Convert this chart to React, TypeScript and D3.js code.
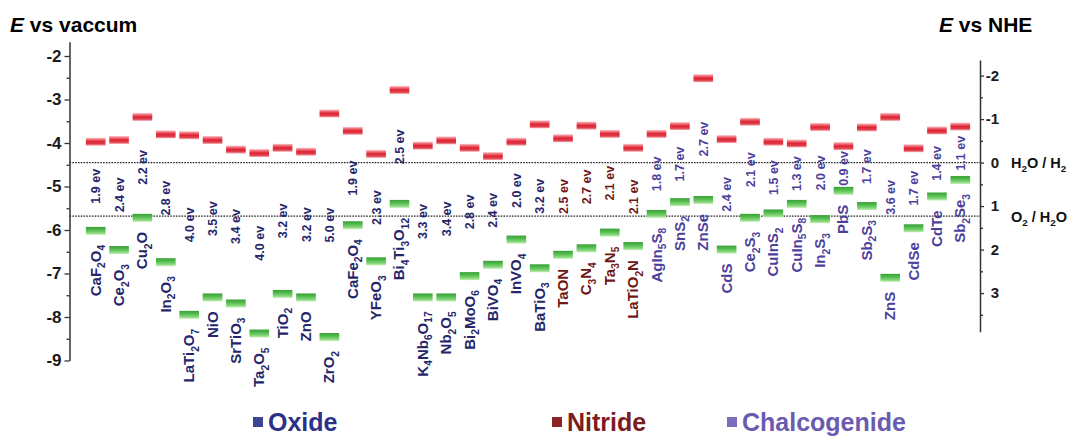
import { useEffect, useRef } from 'react';
import * as d3 from 'd3';

// materials in plotted order
const materials = [
  'CaF2O4', 'Ce2O3', 'Cu2O', 'In2O3', 'LaTi2O7', 'NiO', 'SrTiO3', 'Ta2O5', 'TiO2', 'ZnO',
  'ZrO2', 'CaFe2O4', 'YFeO3', 'Bi4Ti3O12', 'K4Nb6O17', 'Nb2O5', 'Bi2MoO6', 'BiVO4', 'InVO4', 'BaTiO3',
  'TaON', 'C3N4', 'Ta3N5', 'LaTiO2N',
  'AgIn5S8', 'SnS2', 'ZnSe', 'CdS', 'Ce2S3', 'CuInS2', 'CuIn5S8', 'In2S3', 'PbS', 'Sb2S3',
  'ZnS', 'CdSe', 'CdTe', 'Sb2Se3',
];

const kinds = [
  ...Array(20).fill('oxide'),
  ...Array(4).fill('nitride'),
  ...Array(14).fill('chalcogenide'),
];

// conduction band edge (E vs vacuum, eV)
const cbEdge = [
  -3.97, -3.93, -3.4, -3.8, -3.82, -3.93, -4.15, -4.23, -4.11, -4.2,
  -3.32, -3.72, -4.25, -2.78, -4.06, -3.94, -4.11, -4.3, -3.97, -3.57,
  -3.89, -3.6, -3.79, -4.11,
  -3.79, -3.61, -2.51, -3.91, -3.51, -3.97, -4.01, -3.63, -4.07, -3.64,
  -3.4, -4.12, -3.71, -3.62,
];

// valence band edge (E vs vacuum, eV)
const vbEdge = [
  -6.02, -6.46, -5.72, -6.74, -7.95, -7.55, -7.69, -8.38, -7.47, -7.55,
  -8.46, -5.89, -6.72, -5.4, -7.55, -7.55, -7.06, -6.8, -6.22, -6.88,
  -6.57, -6.42, -6.06, -6.37,
  -5.63, -5.36, -5.31, -6.45, -5.72, -5.62, -5.4, -5.75, -5.1, -5.45,
  -7.1, -5.96, -5.23, -4.85,
];

const gapLabels = [
  '1.9 ev', '2.4 ev', '2.2 ev', '2.8 ev', '4.0 ev', '3.5 ev', '3.4 ev', '4.0 ev', '3.2 ev', '3.2 ev',
  '5.0 ev', '1.9 ev', '2.3 ev', '2.5 ev', '3.3 ev', '3.4 ev', '2.8 ev', '2.4 ev', '2.0 ev', '3.2 ev',
  '2.5 ev', '2.7 ev', '2.1 ev', '2.1 ev',
  '1.8 ev', '1.7 ev', '2.7 ev', '2.4 ev', '2.1 ev', '1.5 ev', '1.3 ev', '2.0 ev', '0.9 ev', '1.7 ev',
  '3.6 ev', '1.7 ev', '1.4 ev', '1.1 ev',
];

const vacTicks = [-2, -3, -4, -5, -6, -7, -8, -9];
const nheTicks = [-2, -1, 0, 1, 2, 3];
const NHE_ZERO = -4.45; // E vs vacuum of NHE 0
const redoxLevels = [
  { label: 'H2O / H2', nhe: 0 },
  { label: 'O2 / H2O', nhe: 1.23 },
];

const legendNames = ['Oxide', 'Nitride', 'Chalcogenide'];

const textColor: Record<string, string> = {
  oxide: '#25266a',
  nitride: '#6f1616',
  chalcogenide: '#4c3f9c',
};
const legendColor: Record<string, string> = {
  oxide: '#2d3088',
  nitride: '#7c1c1e',
  chalcogenide: '#6a5bb0',
};
const legendSwatch: Record<string, string> = {
  oxide: '#3b4699',
  nitride: '#8c2427',
  chalcogenide: '#7d6cbc',
};

const FONT = "'Liberation Sans', Arial, Helvetica, sans-serif";

// append chemical formula with subscript numbers
function formula(sel: d3.Selection<SVGTextElement, unknown, null, undefined>, str: string, size: number) {
  const parts = str.match(/\d+|[^\d]+/g) || [];
  const shift = size * 0.3;
  let down = false;
  parts.forEach((p) => {
    const t = sel.append('tspan').text(p);
    if (/^\d+$/.test(p)) {
      t.attr('font-size', size * 0.68);
      if (!down) t.attr('dy', shift);
      down = true;
    } else {
      if (down) t.attr('dy', -shift);
      down = false;
    }
  });
}

export default function App() {
  const svgRef = useRef<SVGSVGElement>(null);
  const width = 1069;
  const height = 438;

  useEffect(() => {
    if (!svgRef.current) return;
    const svg = d3.select(svgRef.current);
    svg.selectAll('*').remove();

    const leftX = 69.5;
    const rightX = 980;

    const y = d3.scaleLinear().domain([-2, -9]).range([56, 360.5]);
    const x = d3
      .scaleBand<string>()
      .domain(materials)
      .range([84, 972])
      .paddingInner(0.16)
      .paddingOuter(0.08);

    // gradients
    const defs = svg.append('defs');
    const red = defs.append('linearGradient').attr('id', 'cbGrad')
      .attr('x1', '0%').attr('y1', '0%').attr('x2', '0%').attr('y2', '100%');
    [
      ['0%', '#fbd0d4'], ['22%', '#f0707a'], ['50%', '#dc2333'], ['78%', '#e0404c'], ['100%', '#f7b0b6'],
    ].forEach(([o, c]) => red.append('stop').attr('offset', o).attr('stop-color', c));
    const green = defs.append('linearGradient').attr('id', 'vbGrad')
      .attr('x1', '0%').attr('y1', '0%').attr('x2', '0%').attr('y2', '100%');
    [
      ['0%', '#3a9f37'], ['35%', '#4fb94b'], ['75%', '#86d67a'], ['100%', '#c4efb8'],
    ].forEach(([o, c]) => green.append('stop').attr('offset', o).attr('stop-color', c));

    const g = svg.append('g').attr('font-family', FONT);

    // titles
    const t1 = g.append('text').attr('x', 10).attr('y', 32).attr('font-size', 21).attr('font-weight', 'bold');
    t1.append('tspan').attr('font-style', 'italic').text('E');
    t1.append('tspan').text(' vs vaccum');
    const t2 = g.append('text').attr('x', 939).attr('y', 32).attr('font-size', 21).attr('font-weight', 'bold');
    t2.append('tspan').attr('font-style', 'italic').text('E');
    t2.append('tspan').text(' vs NHE');

    // left axis
    const yLeft = y.copy().domain([-1.67, -9]).range([y(-1.67), y(-9)]);
    const leftAxis = g.append('g').attr('transform', `translate(${leftX},0)`)
      .call(d3.axisLeft(yLeft).tickValues(vacTicks).tickSize(5).tickSizeOuter(0).tickPadding(3)
        .tickFormat((d) => d3.format('d')(d as number).replace('−', '-')));
    leftAxis.selectAll('text').attr('font-size', 17).attr('font-weight', 'bold').attr('fill', '#1a1a1a').attr('font-family', FONT);
    g.append('g').attr('transform', `translate(${leftX},0)`)
      .call(d3.axisLeft(yLeft).tickValues(d3.range(-2.5, -9, -1)).tickSize(3).tickSizeOuter(0).tickFormat(() => ''))
      .select('.domain').remove();

    // right axis (NHE)
    const nhe = d3.scaleLinear().domain([-2.36, 3.89]).range([y(NHE_ZERO + 2.36), y(NHE_ZERO - 3.89)]);
    const rightAxis = g.append('g').attr('transform', `translate(${rightX},0)`)
      .call(d3.axisRight(nhe).tickValues(nheTicks).tickSize(4).tickSizeOuter(0)
        .tickFormat((d) => d3.format('d')(d as number).replace('−', '-')));
    rightAxis.selectAll('text').attr('font-size', 15).attr('font-weight', 'bold').attr('fill', '#1a1a1a')
      .attr('font-family', FONT).attr('text-anchor', 'end').attr('x', 19);
    g.append('g').attr('transform', `translate(${rightX},0)`)
      .call(d3.axisRight(nhe).tickValues(d3.range(-1.5, 4, 1)).tickSize(3).tickSizeOuter(0).tickFormat(() => ''))
      .select('.domain').remove();

    svg.selectAll('.domain').attr('stroke', '#333').attr('stroke-width', 1.5);
    svg.selectAll('.tick line').attr('stroke', '#333').attr('stroke-width', 1.3);

    // redox levels
    redoxLevels.forEach((r) => {
      const ly = y(NHE_ZERO - r.nhe);
      g.append('line')
        .attr('x1', leftX).attr('x2', rightX).attr('y1', ly).attr('y2', ly)
        .attr('stroke', '#222').attr('stroke-width', 1.3).attr('stroke-dasharray', '1.6,1.2');
      const lt = g.append('text').attr('x', 1011).attr('y', ly + 5.5)
        .attr('font-size', 14.5).attr('font-weight', 'bold').attr('fill', '#111');
      formula(lt, r.label, 14.5);
    });

    const bw = x.bandwidth();
    const idx = materials.map((_, i) => i);

    // conduction band bars
    g.selectAll('.cb').data(idx).enter().append('rect')
      .attr('x', (i) => x(materials[i])!)
      .attr('y', (i) => y(cbEdge[i]) - 4)
      .attr('width', bw).attr('height', 8)
      .attr('fill', 'url(#cbGrad)');

    // valence band bars
    g.selectAll('.vb').data(idx).enter().append('rect')
      .attr('x', (i) => x(materials[i])!)
      .attr('y', (i) => y(vbEdge[i]) - 4)
      .attr('width', bw).attr('height', 8)
      .attr('fill', 'url(#vbGrad)');

    // gap labels
    idx.forEach((i) => {
      const cx = x(materials[i])! + bw / 2 + 4.5;
      const cy = (y(cbEdge[i]) + y(vbEdge[i])) / 2;
      g.append('text')
        .attr('transform', `translate(${cx},${cy}) rotate(-90)`)
        .attr('text-anchor', 'middle')
        .attr('font-size', 12.5).attr('font-weight', 'bold')
        .attr('fill', textColor[kinds[i]])
        .text(gapLabels[i]);
    });

    // material names
    idx.forEach((i) => {
      const cx = x(materials[i])! + bw / 2 + 5;
      const top = y(vbEdge[i]) + 4 + 10;
      const t = g.append('text')
        .attr('transform', `translate(${cx},${top}) rotate(-90)`)
        .attr('text-anchor', 'end')
        .attr('font-size', 15).attr('font-weight', 'bold')
        .attr('fill', textColor[kinds[i]]);
      formula(t, materials[i], 15);
    });

    // legend
    const legendX = [253, 552, 727];
    const legendKinds = ['oxide', 'nitride', 'chalcogenide'];
    legendNames.forEach((name, k) => {
      const lx = legendX[k];
      g.append('rect').attr('x', lx).attr('y', 417).attr('width', 10).attr('height', 10)
        .attr('fill', legendSwatch[legendKinds[k]]);
      g.append('text').attr('x', lx + 15).attr('y', 431)
        .attr('font-size', 25).attr('font-weight', 'bold')
        .attr('fill', legendColor[legendKinds[k]])
        .text(name);
    });
  }, []);

  return (
    <div style={{ position: 'absolute', left: 0, top: 0 }}>
      <svg ref={svgRef} width={width} height={height} style={{ display: 'block', background: '#fff' }} />
    </div>
  );
}
